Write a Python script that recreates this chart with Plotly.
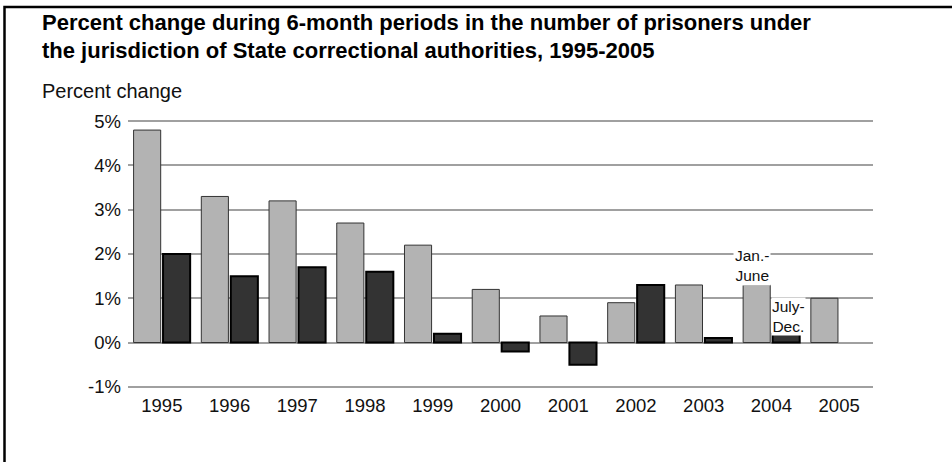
import plotly.graph_objects as go

# Six-month percent change in State prisoner counts
years = ["1995", "1996", "1997", "1998", "1999", "2000",
         "2001", "2002", "2003", "2004", "2005"]
jan_june = [4.8, 3.3, 3.2, 2.7, 2.2, 1.2, 0.6, 0.9, 1.3, 1.3, 1.0]
july_dec = [2.0, 1.5, 1.7, 1.6, 0.2, -0.2, -0.5, 1.3, 0.1, 0.2, None]

y_ticks = [-1, 0, 1, 2, 3, 4, 5]
y_tick_text = [f"{v}%" for v in y_ticks]

title_lines = [
    "Percent change during 6-month periods in the number of prisoners under",
    "the jurisdiction of State correctional authorities, 1995-2005",
]

FONT = "Liberation Sans, Arial, Helvetica, sans-serif"

# Plot-area geometry in pixels (used to place the surrounding frame and labels)
W, H = 952, 462
L, R, T, B = 128, 79, 119, 73
PW, PH = W - L - R, H - T - B


def px_x(x):
    return (x - L) / PW


def px_y(y):
    return (H - B - y) / PH


# index of the year that carries the period labels
label_idx = years.index("2004")

fig = go.Figure()
fig.add_trace(go.Bar(
    x=years, y=jan_june, name="Jan.-June",
    marker=dict(color="#b3b3b3", line=dict(color="#333333", width=1)),
))
fig.add_trace(go.Bar(
    x=years, y=july_dec, name="July-Dec.",
    marker=dict(color="#333333", line=dict(color="#000000", width=2)),
))

annotations = [
    dict(text=f"<b>{line}</b>", xref="paper", yref="paper",
         x=px_x(40), y=px_y(yc), xanchor="left", yanchor="middle",
         showarrow=False, font=dict(size=22, color="#000000"))
    for line, yc in zip(title_lines, [22, 50])
]
annotations += [
    dict(text="Percent change", xref="paper", yref="paper",
         x=px_x(40), y=px_y(91), xanchor="left", yanchor="middle",
         showarrow=False, font=dict(size=20)),
    dict(text="Jan.-<br>June", xref="x", yref="y",
         x=label_idx, xshift=-19, y=1.74, yanchor="middle",
         showarrow=False, bgcolor="white", borderpad=1,
         font=dict(size=15.5)),
    dict(text="July-<br>Dec.", xref="x", yref="y",
         x=label_idx, xshift=17, y=0.58, yanchor="middle",
         showarrow=False, bgcolor="white", borderpad=0,
         font=dict(size=15.5)),
]

fig.update_layout(
    width=W, height=H,
    margin=dict(l=L, r=R, t=T, b=B),
    paper_bgcolor="white", plot_bgcolor="white",
    barmode="group", bargap=0.13, bargroupgap=0.08,
    showlegend=False,
    font=dict(family=FONT, color="#111111", size=18),
    xaxis=dict(
        type="category", showgrid=False, showline=False, zeroline=False,
        ticks="", tickfont=dict(size=18.5), ticklabelstandoff=3,
    ),
    yaxis=dict(
        range=[-1.05, 5.05], tickvals=y_ticks, ticktext=y_tick_text,
        showgrid=True, gridcolor="#a0a0a0", gridwidth=2,
        zeroline=True, zerolinecolor="#a0a0a0", zerolinewidth=2,
        showline=False, ticks="", ticklabelstandoff=6,
        tickfont=dict(size=18.5),
    ),
    annotations=annotations,
    shapes=[
        # Open frame: left and top edges
        dict(type="path", xref="paper", yref="paper",
             path=f"M {px_x(4.5)},{px_y(480)} L {px_x(4.5)},{px_y(7)} L {px_x(980)},{px_y(7)}",
             line=dict(color="black", width=2.5)),
    ],
)

fig.write_html("out.html")
